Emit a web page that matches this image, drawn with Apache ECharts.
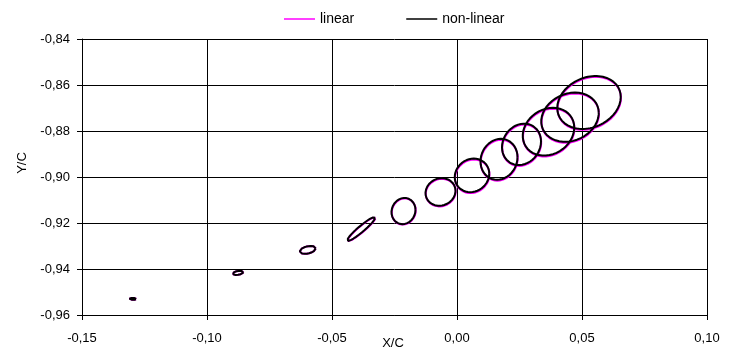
<!DOCTYPE html>
<html><head><meta charset="utf-8">
<script src="https://cdn.jsdelivr.net/npm/echarts@6/dist/echarts.min.js"></script>
<style>html,body{margin:0;padding:0;background:#fff}#c{width:733px;height:352px}</style>
</head><body><div id="c"></div>
<script>
// Axis ranges / ticks
const xTicks = [-0.15, -0.10, -0.05, 0.00, 0.05, 0.10];
const yTicks = [-0.96, -0.94, -0.92, -0.90, -0.88, -0.86, -0.84];
const seriesNames = ['linear', 'non-linear'];

// Loops of the non-linear solution: centre, half-range in X and Y, phase lag (deg)
const nlCx = [-0.1297, -0.0876, -0.0597, -0.0383, -0.0214, -0.0066, 0.0060, 0.0168, 0.0258, 0.0366, 0.0452, 0.0528];
const nlCy = [-0.9530, -0.9417, -0.9317, -0.9226, -0.9148, -0.9065, -0.8993, -0.8923, -0.8858, -0.8803, -0.8740, -0.8676];
const nlAx = [0.0014, 0.0021, 0.0032, 0.0056, 0.0048, 0.0060, 0.0069, 0.0074, 0.0078, 0.0103, 0.0115, 0.0127];
const nlAy = [0.0004, 0.0009, 0.0017, 0.0052, 0.0057, 0.0060, 0.0073, 0.0089, 0.0090, 0.0104, 0.0107, 0.0115];
const nlPhase = [90, 70, 68, 19, 85, 85, 84, 84, 82, 80, 80, 78];

// Loops of the linear solution
const linCx = [-0.1297, -0.0876, -0.0597, -0.0382, -0.0213, -0.0065, 0.0061, 0.0169, 0.0259, 0.0367, 0.0453, 0.0529];
const linCy = [-0.9530, -0.9417, -0.9317, -0.9227, -0.9150, -0.9068, -0.8997, -0.8927, -0.8862, -0.8807, -0.8744, -0.8680];
const linAx = [0.0014, 0.0021, 0.0032, 0.0056, 0.0048, 0.0060, 0.0069, 0.0074, 0.0078, 0.0103, 0.0115, 0.0127];
const linAy = [0.0004, 0.0009, 0.0017, 0.0052, 0.0057, 0.0060, 0.0073, 0.0089, 0.0090, 0.0104, 0.0107, 0.0115];
const linPhase = [90, 70, 68, 19, 85, 85, 84, 84, 82, 80, 80, 78];

function loop(cx, cy, ax, ay, ph) {
  const pts = [];
  const p = ph * Math.PI / 180;
  for (let d = 0; d <= 360; d += 4) {
    const t = d * Math.PI / 180;
    pts.push([cx + ax * Math.cos(t), cy + ay * Math.cos(t - p)]);
  }
  return pts;
}

const series = [];
const styles = { 'linear': '#FF00FF', 'non-linear': '#000000' };
function addLoops(name, cx, cy, ax, ay, ph) {
  for (let i = 0; i < cx.length; i++) {
    series.push({
      name: name, type: 'line', data: loop(cx[i], cy[i], ax[i], ay[i], ph[i]),
      showSymbol: false, symbol: 'none', smooth: false, silent: true,
      itemStyle: { color: styles[name] },
      lineStyle: { color: styles[name], width: 2 },
      animation: false
    });
  }
}
addLoops(seriesNames[0], linCx, linCy, linAx, linAy, linPhase);
addLoops(seriesNames[1], nlCx, nlCy, nlAx, nlAy, nlPhase);

const fmt = v => v.toFixed(2).replace('.', ',').replace('-0,00', '0,00');
const font = 'Liberation Sans, Arial, sans-serif';

const chart = echarts.init(document.getElementById('c'), null, { renderer: 'canvas' });
chart.setOption({
  animation: false,
  backgroundColor: '#ffffff',
  grid: { left: 82, right: 26, top: 39, bottom: 37, outerBoundsMode: 'none' },
  legend: {
    data: seriesNames, left: 284, top: 12, padding: 0, icon: 'rect', itemWidth: 31, itemHeight: 1.5,
    itemGap: 52, textStyle: { fontFamily: font, fontSize: 14, color: '#000' }
  },
  xAxis: {
    type: 'value', min: xTicks[0], max: xTicks[xTicks.length - 1], interval: 0.05,
    axisLine: { show: true, onZero: false, lineStyle: { color: '#000', width: 1 } },
    axisTick: { show: true, inside: false, length: 5, lineStyle: { color: '#000' } },
    axisLabel: { formatter: fmt, margin: 17, fontFamily: font, fontSize: 13, color: '#000' },
    splitLine: { show: true, lineStyle: { color: '#000', width: 1 } }
  },
  yAxis: {
    type: 'value', min: yTicks[0], max: yTicks[yTicks.length - 1], interval: 0.02,
    axisLine: { show: true, onZero: false, lineStyle: { color: '#000', width: 1 } },
    axisTick: { show: true, inside: false, length: 5, lineStyle: { color: '#000' } },
    axisLabel: { formatter: fmt, margin: 12, fontFamily: font, fontSize: 13, color: '#000' },
    splitLine: { show: true, lineStyle: { color: '#000', width: 1 } }
  },
  graphic: [{
    type: 'text', x: 22, y: 163, rotation: Math.PI / 2,
    style: { text: 'Y/C', fontFamily: font, fontSize: 13, fill: '#000', align: 'center', verticalAlign: 'middle' }
  }, {
    type: 'text', x: 393, y: 343,
    style: { text: 'X/C', fontFamily: font, fontSize: 13, fill: '#000', align: 'center', verticalAlign: 'middle' }
  }],
  series: series
});
</script>
</body></html>
